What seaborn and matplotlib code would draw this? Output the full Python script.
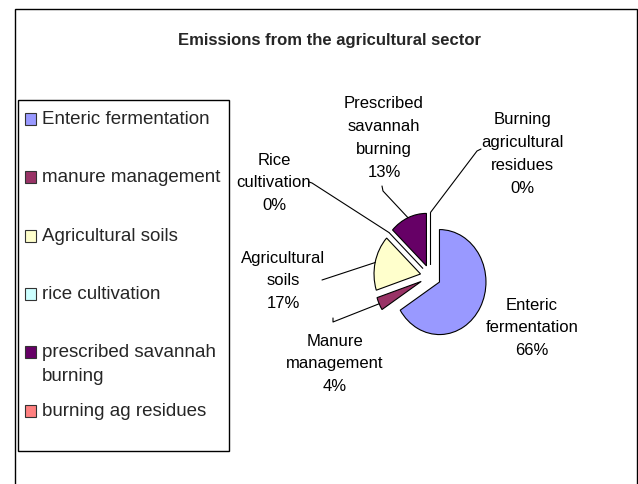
import matplotlib
matplotlib.use("Agg")
import numpy as np
import matplotlib.pyplot as plt
import seaborn as sns
from matplotlib.patches import Rectangle

# data
sources = ["Enteric\nfermentation", "Manure\nmanagement", "Agricultural\nsoils",
           "Rice\ncultivation", "Prescribed\nsavannah\nburning",
           "Burning\nagricultural\nresidues"]
legend_names = ["Enteric fermentation", "manure management", "Agricultural soils",
                "rice cultivation", "prescribed savannah\nburning", "burning ag residues"]
shares = [66, 4, 17, 0, 13, 0]
colors = ["#9999FF", "#993366", "#FFFFCC", "#CCFFFF", "#660066", "#FF8080"]

sns.set_theme(style="white")
plt.rcParams["font.family"] = ["Liberation Sans", "DejaVu Sans"]

W, H = 638, 485
fig = plt.figure(figsize=(W / 100, H / 100), dpi=100)
ax = fig.add_axes([0, 0, 1, 1])

# pie centre / radii in pixels (old excel chart, a bit squashed sideways)
cx, cy, rx, ry = 430.5, 277.5, 46.5, 52.5


def to_data(px, py):
    return (px - cx) / rx, (cy - py) / ry


wedges, _ = ax.pie(shares, colors=sns.color_palette(colors), startangle=90,
                   counterclock=False, explode=[0.22] * len(shares),
                   wedgeprops=dict(edgecolor="black", linewidth=0.8))
ax.set_aspect("auto")
ax.set_xlim(-cx / rx, (W - cx) / rx)
ax.set_ylim((cy - H) / ry, cy / ry)
ax.axis("off")

# label block centres (px) and leader line start points
label_pos = [(532, 328), (335, 364), (283, 281), (274, 183), (384, 138), (522, 154)]
leaders = {1: [(333, 319), (333, 323)],
           2: [(322, 281)],
           3: [(309, 183), (312, 184)],
           4: [(382, 187), (383, 192)],
           5: [(481, 150), (477, 152)]}

for i, (name, share) in enumerate(zip(sources, shares)):
    x, y = to_data(*label_pos[i])
    ax.text(x, y, f"{name}\n{share}%", ha="center", va="center",
            fontsize=12, linespacing=1.66, color="black")
    if i in leaders:
        w = wedges[i]
        mid = np.deg2rad((w.theta1 + w.theta2) / 2)
        end = (w.center[0] + w.r * np.cos(mid), w.center[1] + w.r * np.sin(mid))
        pts = [to_data(*p) for p in leaders[i]] + [end]
        ax.plot([p[0] for p in pts], [p[1] for p in pts], color="black", lw=0.8)

# outer chart frame
fig.patches.append(Rectangle((15 / W, -0.05), (637 - 15) / W, 1 - 10 / H + 0.05,
                             transform=fig.transFigure, fill=False,
                             edgecolor="black", linewidth=1))

fig.text(330 / W, 1 - 40 / H, "Emissions from the agricultural sector",
         ha="center", va="center", fontsize=12, fontweight="bold")

# legend box, drawn by hand to match the excel spacing
fig.patches.append(Rectangle((18 / W, 1 - 452 / H), 211 / W, 351 / H,
                             transform=fig.transFigure, fill=False,
                             edgecolor="black", linewidth=1))
rows = [120, 178, 237, 295, 353, 412]
for name, col, ry_px in zip(legend_names, colors, rows):
    fig.patches.append(Rectangle((25 / W, 1 - (ry_px + 6) / H), 11 / W, 12 / H,
                                 transform=fig.transFigure, facecolor=col,
                                 edgecolor="#333333", linewidth=0.8))
    fig.text(42 / W, 1 - (ry_px - 9) / H, name, ha="left", va="top",
             fontsize=13.5, linespacing=1.52)

fig.savefig("out.png", dpi=100, facecolor="white")
